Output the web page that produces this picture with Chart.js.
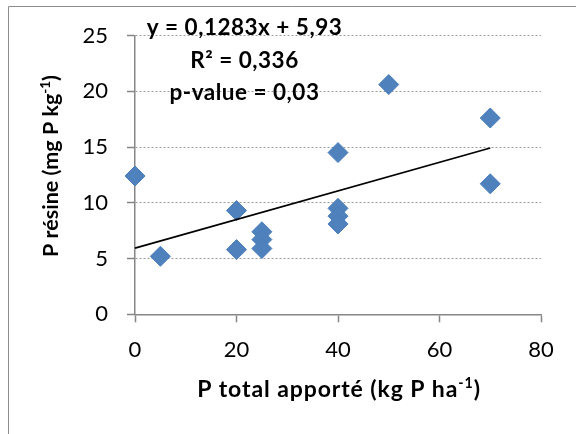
<!DOCTYPE html>
<html>
<head>
<meta charset="utf-8">
<script src="https://cdn.jsdelivr.net/npm/chart.js@4.4.1/dist/chart.umd.min.js"></script>
<style>
  html, body { margin: 0; padding: 0; background: #fff; }
  #wrap { width: 576px; height: 434px; position: relative; }
</style>
</head>
<body>
<div id="wrap"><canvas id="myChart" width="576" height="434"></canvas></div>
<script>
// P total apporte (kg P/ha) vs P resine (mg P/kg)
const pApporte = [0, 5, 20, 20, 25, 25, 25, 40, 40, 40, 40, 50, 70, 70];
const pResine = [12.4, 5.2, 9.3, 5.8, 7.4, 6.7, 5.9, 14.5, 9.5, 8.8, 8.1, 20.6, 17.6, 11.7];

// trend line ends (y = 0,1283x + 5,93)
const trendX = [0, 70];
const trendY = [5.93, 14.91];

const xTicks = [0, 20, 40, 60, 80];
const yTicks = [0, 5, 10, 15, 20, 25];

const annotLines = ['y = 0,1283x + 5,93', 'R² = 0,336', 'p-value = 0,03'];

const FONT = 'Lato, "Open Sans", sans-serif';
const axisGray = '#868686';

// draw a string made of normal and superscript parts, centred on cx
function drawRich(ctx, parts, cx, baseY, size, spacing) {
  ctx.letterSpacing = (spacing || 0) + 'px';
  let w = 0;
  parts.forEach(function (p) {
    ctx.font = 'bold ' + (p.sup ? size * 0.62 : size) + 'px ' + FONT;
    p.w = ctx.measureText(p.t).width;
    w += p.w;
  });
  let x = cx - w / 2;
  parts.forEach(function (p) {
    ctx.font = 'bold ' + (p.sup ? size * 0.62 : size) + 'px ' + FONT;
    ctx.fillText(p.t, x, p.sup ? baseY - size * 0.38 : baseY);
    x += p.w;
  });
  ctx.letterSpacing = '0px';
}

const textPlugin = {
  id: 'textPlugin',
  beforeDraw(chart) {
    const ctx = chart.ctx;
    ctx.save();
    ctx.fillStyle = '#fff';
    ctx.fillRect(0, 0, chart.width, chart.height);
    // outer frame, cut by the picture edges
    ctx.strokeStyle = '#8c8c8c';
    ctx.lineWidth = 1;
    ctx.beginPath();
    ctx.moveTo(8.5, 434);
    ctx.lineTo(8.5, 6.5);
    ctx.lineTo(576, 6.5);
    ctx.stroke();
    ctx.restore();
  },
  afterDraw(chart) {
    const ctx = chart.ctx;
    ctx.save();
    ctx.fillStyle = '#000';
    ctx.textAlign = 'left';
    ctx.textBaseline = 'alphabetic';

    // x title
    drawRich(ctx, [{t: 'P total apporté (kg P ha'}, {t: '-1', sup: true}, {t: ')'}], 339, 397, 23, 0.9);

    // y title, rotated
    ctx.save();
    ctx.translate(58, 166);
    ctx.rotate(-Math.PI / 2);
    drawRich(ctx, [{t: 'P résine (mg P kg'}, {t: '-1', sup: true}, {t: ')'}], 0, 0, 21.5, 0);
    ctx.restore();

    // equation box
    const base = [34.5, 68, 99.5];
    annotLines.forEach(function (s, i) {
      drawRich(ctx, [{t: s}], 244.5, base[i], 22.5, 0.5);
    });
    ctx.restore();
  }
};

const scatterData = pApporte.map(function (x, i) { return {x: x, y: pResine[i]}; });
const trendData = trendX.map(function (x, i) { return {x: x, y: trendY[i]}; });

const config = {
  type: 'scatter',
  data: {
    datasets: [
      {
        type: 'line',
        label: 'tendance',
        data: trendData,
        borderColor: '#000',
        borderWidth: 1.75,
        pointRadius: 0,
        fill: false,
        clip: false,
        order: 1
      },
      {
        label: 'P résine',
        data: scatterData,
        pointStyle: 'rectRot',
        pointRadius: 10,
        backgroundColor: '#4F81BD',
        borderColor: '#4A7EBB',
        borderWidth: 1,
        clip: false,
        order: 2
      }
    ]
  },
  options: {
    responsive: false,
    animation: false,
    events: [],
    layout: { padding: { top: 35.5, right: 35, bottom: 0, left: 0 } },
    plugins: {
      legend: { display: false },
      tooltip: { enabled: false }
    },
    scales: {
      x: {
        type: 'linear',
        min: 0,
        max: 80,
        afterBuildTicks: function (scale) {
          scale.ticks = xTicks.map(function (v) { return {value: v}; });
        },
        afterFit: function (scale) { scale.height = 119.7; },
        grid: {
          drawOnChartArea: false,
          drawTicks: true,
          tickLength: 8,
          tickColor: axisGray,
          tickWidth: 1.5
        },
        border: { display: true, color: axisGray, width: 1.5 },
        ticks: {
          color: '#000',
          padding: 14,
          font: { family: FONT, size: 22 }
        }
      },
      y: {
        type: 'linear',
        min: 0,
        max: 25,
        afterBuildTicks: function (scale) {
          scale.ticks = yTicks.map(function (v) { return {value: v}; });
        },
        afterFit: function (scale) { scale.width = 135; },
        grid: {
          color: '#9a9a9a',
          lineWidth: 1,
          drawTicks: true,
          tickLength: 8,
          tickColor: axisGray,
          tickWidth: 1.5
        },
        border: { display: true, color: axisGray, width: 1.5, dash: [2, 2] },
        ticks: {
          color: '#000',
          padding: 19,
          font: { family: FONT, size: 22 }
        }
      }
    }
  },
  plugins: [textPlugin]
};

const myChart = new Chart(document.getElementById('myChart'), config);
</script>
</body>
</html>
